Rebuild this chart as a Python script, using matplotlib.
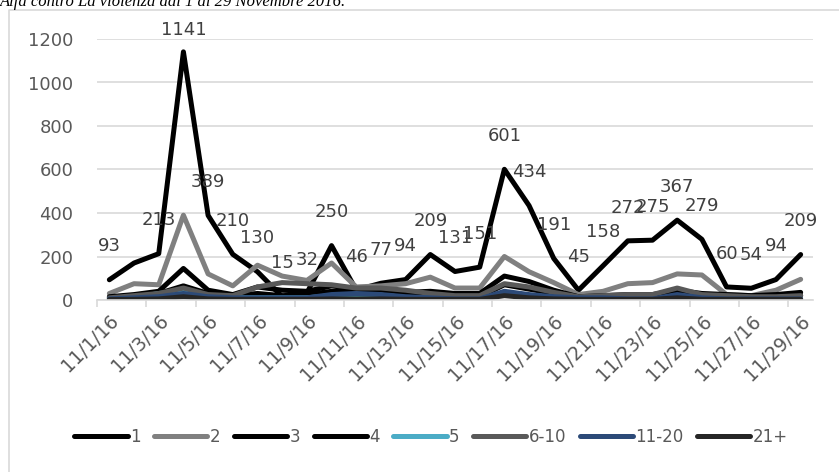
import numpy as np
import matplotlib
matplotlib.use("Agg")
import matplotlib.pyplot as plt
from matplotlib.lines import Line2D

# dati: 1-29 novembre 2016
giorni = [f"11/{d}/16" for d in range(1, 30)]

s1 = [93, 170, 213, 1141, 389, 210, 130, 15, 32, 250, 46, 77, 94, 209, 131,
      151, 601, 434, 191, 45, 158, 272, 275, 367, 279, 60, 54, 94, 209]
s2 = [30, 75, 70, 390, 120, 65, 160, 110, 90, 170, 60, 65, 75, 105, 55,
      55, 200, 130, 80, 25, 40, 75, 80, 120, 115, 25, 20, 45, 95]
s3 = [15, 25, 40, 145, 45, 25, 60, 45, 40, 65, 50, 45, 35, 40, 30,
      30, 110, 85, 45, 15, 20, 25, 25, 45, 30, 25, 20, 25, 35]
s4 = [10, 20, 30, 65, 30, 20, 30, 20, 25, 40, 40, 20, 15, 20, 15,
      15, 70, 50, 30, 15, 15, 15, 15, 25, 20, 15, 15, 15, 20]
s5 = [5, 10, 30, 40, 20, 10, 10, 10, 10, 20, 20, 15, 10, 10, 5,
      5, 30, 20, 10, 5, 5, 5, 5, 10, 5, 5, 5, 5, 5]
s6_10 = [10, 20, 30, 55, 25, 20, 60, 80, 75, 70, 55, 55, 45, 30, 20,
         20, 75, 60, 35, 15, 20, 25, 25, 55, 25, 20, 15, 15, 20]
s11_20 = [5, 10, 15, 30, 15, 10, 10, 10, 10, 25, 30, 25, 15, 10, 5,
          5, 40, 25, 15, 10, 10, 5, 5, 25, 10, 5, 5, 5, 5]
s21 = [2, 3, 5, 15, 5, 3, 3, 3, 3, 5, 5, 5, 3, 3, 3,
       3, 20, 10, 5, 3, 3, 3, 3, 10, 3, 3, 3, 3, 3]

nomi = ["1", "2", "3", "4", "5", "6-10", "11-20", "21+"]
serie = [s1, s2, s3, s4, s5, s6_10, s11_20, s21]
colori = ["#000000", "#808080", "#000000", "#000000", "#4BACC6",
          "#595959", "#2C4A78", "#262626"]

fig = plt.figure(figsize=(8.39, 4.72), dpi=100)
ax = fig.add_axes([97/839, 1 - 300/472, 716/839, 261/472])

x = np.arange(len(giorni))
for nome, ys, c in zip(nomi, serie, colori):
    ax.plot(x, ys, color=c, lw=3.6, solid_joinstyle='round',
            solid_capstyle='round', label=nome)

# etichette dati della serie 1 (manca quella del 2/11)
for i, v in enumerate(s1):
    if i == 1:
        continue
    off = 16 if v > 1100 else 24
    ax.annotate(str(v), (i, v), xytext=(0, off), textcoords='offset points',
                ha='center', va='center', fontsize=13, color='#404040',
                annotation_clip=False)

ax.set_xlim(-0.5, len(giorni) - 0.5)
ax.set_ylim(0, 1200)
ax.set_yticks(range(0, 1201, 200))
ax.yaxis.grid(True, color='#d9d9d9', lw=1.2)
ax.set_axisbelow(True)
for s in ['left', 'right', 'top']:
    ax.spines[s].set_visible(False)
ax.spines['bottom'].set_color('#d9d9d9')
ax.spines['bottom'].set_linewidth(1.2)

ax.set_xticks(x[::2])
ax.set_xticklabels(giorni[::2], rotation=45, ha='right',
                   rotation_mode='anchor', fontsize=13.5, color='#595959')
ax.set_xticks(np.arange(-0.5, len(giorni), 2), minor=True)
ax.tick_params(axis='x', which='major', length=0, pad=8)
ax.tick_params(axis='x', which='minor', length=5, color='#d9d9d9', width=1.2)
ax.tick_params(axis='y', length=0, labelsize=13, labelcolor='#595959', pad=17)

leg = fig.legend(loc='center', bbox_to_anchor=(0.514, 1 - 437/472), ncol=8,
                 frameon=False, fontsize=12, handlelength=3.2,
                 handletextpad=0.15, columnspacing=0.8)
for t in leg.get_texts():
    t.set_color('#595959')
for h in leg.get_lines():
    h.set_solid_capstyle('round')

# bordo dell'area del grafico
fig.add_artist(Line2D([9/839, 9/839, 1.0], [0, 1 - 10/472, 1 - 10/472],
                      transform=fig.transFigure, color='#d9d9d9', lw=1.2))

# titolo tagliato in alto
fig.text(0.0, 1 - 6/472, "Alfa contro La violenza dal 1 al 29 Novembre 2016.",
         family='Liberation Serif', style='italic', fontsize=12,
         va='baseline', ha='left')

fig.savefig("out.png", dpi=100)
